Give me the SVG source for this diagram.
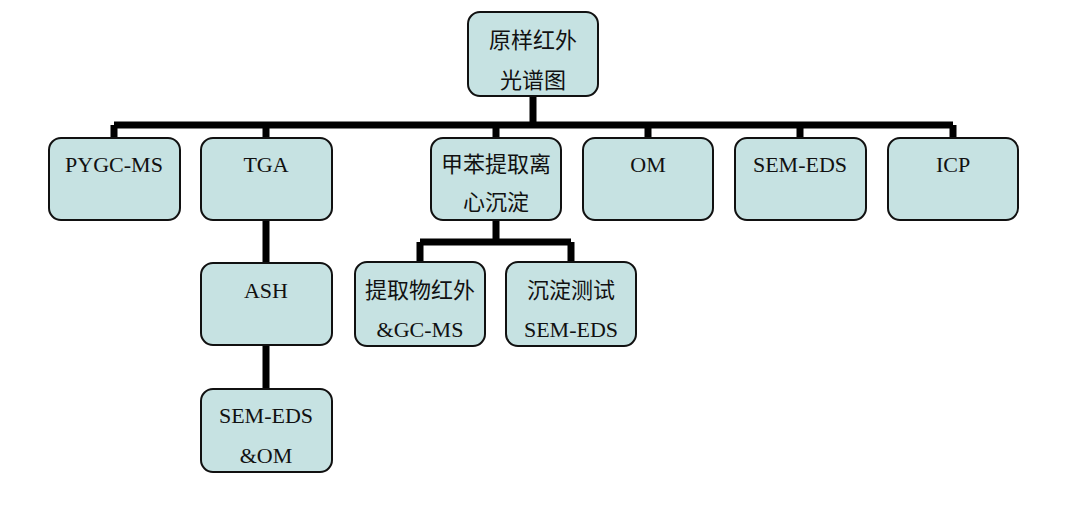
<svg xmlns="http://www.w3.org/2000/svg" width="1080" height="524" viewBox="0 0 1080 524">
<style>
.n rect{fill:#c6e2e2;stroke:#111;stroke-width:2}
.n text{font-family:"Liberation Serif","Noto Sans CJK SC",serif;font-size:22px;fill:#111;text-anchor:middle}
.c path{stroke:#000;stroke-width:7;fill:none}
</style>
<rect width="1080" height="524" fill="#fff"/>
<g class="c">
<path d="M533 96V125M114 125H953M114 125V138M266 125V138M496 125V138M648 125V138M800 125V138M953 125V138"/>
<path d="M266 220V263M266 345V389"/>
<path d="M496 220V242M420 242H571M420 242V262M571 242V262"/>
</g>
<g id="root" class="n"><rect x="468" y="12" width="130" height="84" rx="12"/><text x="533" y="48">原样红外</text><text x="533" y="88">光谱图</text></g>
<g id="pygc" class="n"><rect x="49" y="138" width="131" height="82" rx="12"/><text x="114" y="172">PYGC-MS</text></g>
<g id="tga" class="n"><rect x="201" y="138" width="131" height="82" rx="12"/><text x="266" y="172">TGA</text></g>
<g id="toluene" class="n"><rect x="431" y="138" width="130" height="82" rx="12"/><text x="496" y="172">甲苯提取离</text><text x="496" y="210">心沉淀</text></g>
<g id="om" class="n"><rect x="583" y="138" width="130" height="82" rx="12"/><text x="648" y="172">OM</text></g>
<g id="semeds" class="n"><rect x="735" y="138" width="131" height="82" rx="12"/><text x="800" y="172">SEM-EDS</text></g>
<g id="icp" class="n"><rect x="888" y="138" width="130" height="82" rx="12"/><text x="953" y="172">ICP</text></g>
<g id="ash" class="n"><rect x="201" y="263" width="131" height="82" rx="12"/><text x="266" y="298">ASH</text></g>
<g id="semom" class="n"><rect x="201" y="389" width="131" height="83" rx="12"/><text x="266" y="423">SEM-EDS</text><text x="266" y="463">&amp;OM</text></g>
<g id="extract" class="n"><rect x="355" y="262" width="130" height="84" rx="12"/><text x="420" y="298">提取物红外</text><text x="420" y="337">&amp;GC-MS</text></g>
<g id="precip" class="n"><rect x="506" y="262" width="130" height="84" rx="12"/><text x="571" y="298">沉淀测试</text><text x="571" y="337">SEM-EDS</text></g>
</svg>
